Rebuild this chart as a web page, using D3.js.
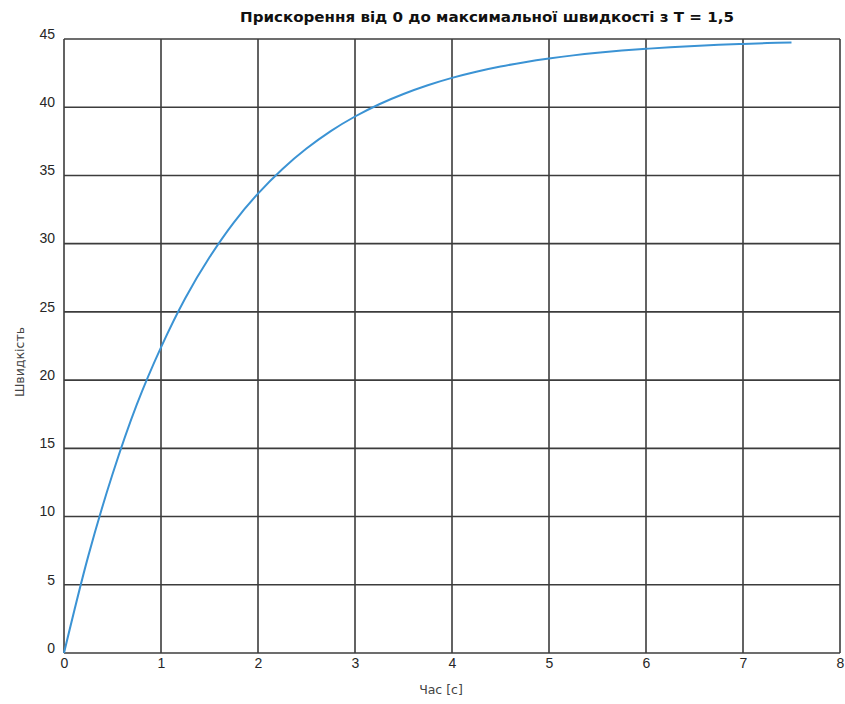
<!DOCTYPE html>
<html>
  <head>
    <meta charset="utf-8">
    <title>Прискорення</title>
    <style>
      body { margin: 0; background: #fff; }
      .tick text { font-family: "Liberation Sans", Arial, sans-serif; font-size: 14px; fill: #262626; }
    </style>
  </head>
  <body>
    <script src="https://d3js.org/d3.v7.min.js"></script>
    <script>
      // значення
      var chas = [0, 0.25, 0.5, 0.75, 1, 1.25, 1.5, 1.75, 2, 2.25, 2.5, 2.75, 3, 3.25, 3.5, 3.75, 4, 4.25, 4.5, 4.75, 5, 5.25, 5.5, 5.75, 6, 6.25, 6.5, 6.75, 7, 7.25, 7.5];
      var shvydkist = [0, 7.1, 13.1, 18.2, 22.4, 26.0, 29.0, 31.55, 33.67, 35.46, 36.97, 38.25, 39.32, 40.22, 40.97, 41.61, 42.15, 42.6, 42.98, 43.3, 43.57, 43.8, 43.99, 44.15, 44.28, 44.4, 44.49, 44.57, 44.64, 44.7, 44.74];
      var xTicks = [0, 1, 2, 3, 4, 5, 6, 7, 8];
      var yTicks = [0, 5, 10, 15, 20, 25, 30, 35, 40, 45];

      var width = 845, height = 704;
      var margin = {left: 64, right: 5, top: 39, bottom: 51};

      var svg = d3.select("body").append("svg")
        .attr("width", width)
        .attr("height", height);

      var x = d3.scaleLinear().domain([0, 8]).range([margin.left, width - margin.right]);
      var y = d3.scaleLinear().domain([0, 45]).range([height - margin.bottom, margin.top]);

      // сітка
      svg.append("g")
        .selectAll("line.vx")
        .data(xTicks)
        .enter().append("line")
        .attr("x1", d => x(d)).attr("x2", d => x(d))
        .attr("y1", y(0)).attr("y2", y(45))
        .attr("stroke", "#3c3c3c").attr("stroke-width", 1.6);
      svg.append("g")
        .selectAll("line.hy")
        .data(yTicks)
        .enter().append("line")
        .attr("y1", d => y(d)).attr("y2", d => y(d))
        .attr("x1", x(0)).attr("x2", x(8))
        .attr("stroke", "#3c3c3c").attr("stroke-width", 1.6);

      // осі
      svg.append("g")
        .attr("transform", "translate(0," + y(0) + ")")
        .call(d3.axisBottom(x).tickValues(xTicks).tickSize(0).tickPadding(5))
        .call(g => g.select(".domain").remove());
      svg.append("g")
        .attr("transform", "translate(" + x(0) + ",0)")
        .call(d3.axisLeft(y).tickValues(yTicks).tickSize(0).tickPadding(9))
        .call(g => g.select(".domain").remove())
        .selectAll("text").attr("dy", "-0.05em");

      // крива
      var line = d3.line()
        .x((d, i) => x(chas[i]))
        .y(d => y(d))
        .curve(d3.curveCatmullRom);
      svg.append("path")
        .datum(shvydkist)
        .attr("d", line)
        .attr("fill", "none")
        .attr("stroke", "#3b93d4")
        .attr("stroke-width", 2);

      // заголовок і підписи
      svg.append("text")
        .attr("x", 487).attr("y", 22)
        .attr("text-anchor", "middle")
        .attr("textLength", 494)
        .attr("lengthAdjust", "spacingAndGlyphs")
        .style("font-family", "'DejaVu Sans', sans-serif")
        .style("font-weight", "bold")
        .style("font-size", "14px")
        .style("fill", "#111")
        .text("Прискорення від 0 до максимальної швидкості з T = 1,5");

      svg.append("text")
        .attr("x", 441).attr("y", 694)
        .attr("text-anchor", "middle")
        .style("font-family", "'DejaVu Sans', sans-serif")
        .style("font-size", "12.5px")
        .style("fill", "#444")
        .text("Час [с]");

      svg.append("text")
        .attr("transform", "translate(24,362) rotate(-90)")
        .attr("text-anchor", "middle")
        .style("font-family", "'DejaVu Sans', sans-serif")
        .style("font-size", "12.5px")
        .style("fill", "#444")
        .text("Швидкість");
    </script>
  </body>
</html>
